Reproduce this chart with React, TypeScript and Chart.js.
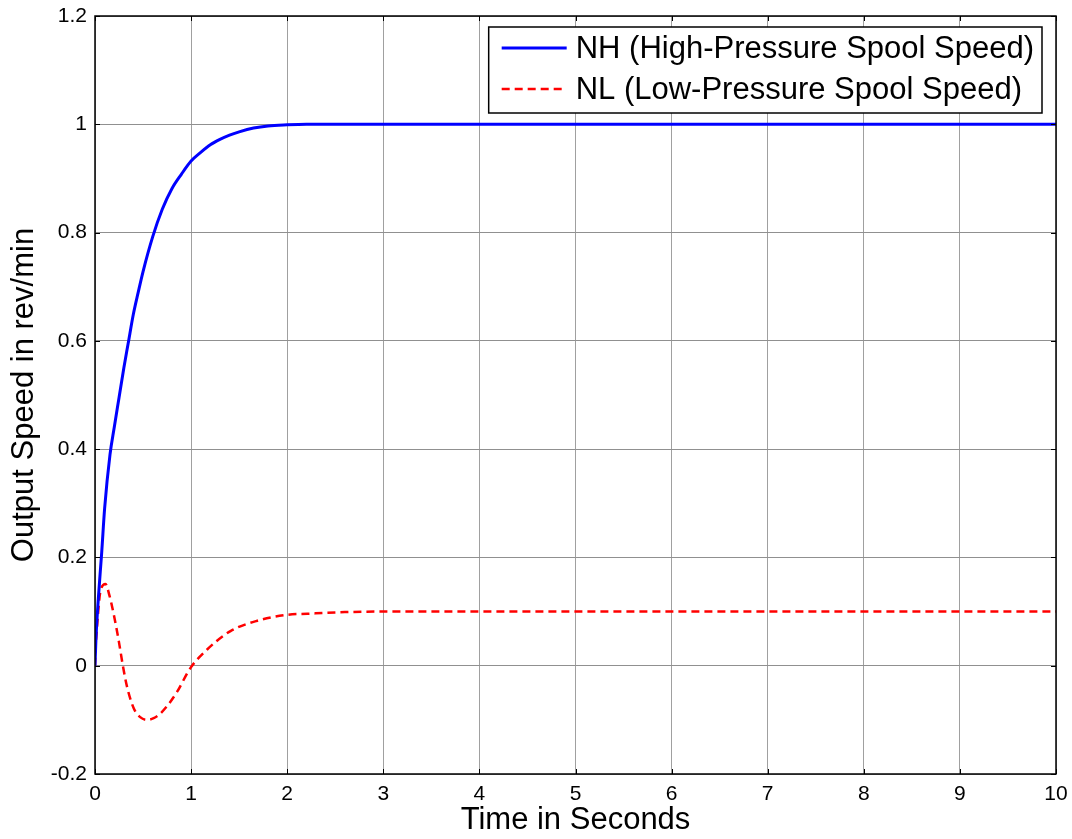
import React, { useEffect, useRef } from "react";
import { Chart, registerables } from "chart.js";

Chart.register(...registerables);

// Time samples (s) and values
const nhTime = [0, 0.01, 0.035, 0.07, 0.1, 0.156, 0.2, 0.25, 0.3, 0.345, 0.4, 0.45, 0.5, 0.6, 0.7, 0.8, 0.9, 1.0, 1.1, 1.2, 1.3, 1.4, 1.5, 1.65, 1.8, 2.0, 2.2, 3, 4, 5, 6, 7, 8, 9, 10];
const nhValues = [0, 0.05, 0.125, 0.21, 0.29, 0.39, 0.44, 0.495, 0.55, 0.595, 0.65, 0.69, 0.728, 0.792, 0.843, 0.881, 0.908, 0.932, 0.948, 0.962, 0.972, 0.98, 0.986, 0.993, 0.997, 0.999, 1.0, 1.0, 1.0, 1.0, 1.0, 1.0, 1.0, 1.0, 1.0];

const nlTime = [0, 0.005, 0.023, 0.057, 0.109, 0.15, 0.196, 0.248, 0.29, 0.335, 0.404, 0.47, 0.543, 0.61, 0.682, 0.77, 0.855, 0.994, 1.167, 1.41, 1.688, 2.0, 2.21, 2.6, 3, 4, 5, 6, 7, 8, 9, 10];
const nlValues = [0, 0.026, 0.076, 0.138, 0.151, 0.13, 0.094, 0.045, 0, -0.04, -0.079, -0.095, -0.1, -0.097, -0.088, -0.07, -0.048, -0.004, 0.03, 0.064, 0.083, 0.094, 0.096, 0.099, 0.1, 0.1, 0.1, 0.1, 0.1, 0.1, 0.1, 0.1];

const seriesLabels = ["NH (High-Pressure Spool Speed)", "NL (Low-Pressure Spool Speed)"];
const xTitle = "Time in Seconds";
const yTitle = "Output Speed in rev/min";

const FONT = "'Liberation Sans', Arial, Helvetica, sans-serif";

const frameAndTicks = {
  id: "frameAndTicks",
  afterDatasetsDraw(chart: any) {
    const { ctx, chartArea, scales } = chart;
    const { left, right, top, bottom } = chartArea;
    ctx.save();
    ctx.strokeStyle = "#000";
    ctx.lineWidth = 1;
    const len = 5;
    ctx.beginPath();
    scales.x.ticks.forEach((t: any) => {
      const px = Math.round(scales.x.getPixelForValue(t.value)) + 0.5;
      ctx.moveTo(px, bottom);
      ctx.lineTo(px, bottom - len);
      ctx.moveTo(px, top);
      ctx.lineTo(px, top + len);
    });
    scales.y.ticks.forEach((t: any) => {
      const py = Math.round(scales.y.getPixelForValue(t.value)) + 0.5;
      ctx.moveTo(left, py);
      ctx.lineTo(left + len, py);
      ctx.moveTo(right, py);
      ctx.lineTo(right - len, py);
    });
    ctx.stroke();
    ctx.lineWidth = 1.5;
    ctx.strokeRect(left, top, right - left, bottom - top);
    ctx.restore();
  },
};

const insideLegend = {
  id: "insideLegend",
  afterDraw(chart: any) {
    const { ctx, chartArea } = chart;
    ctx.save();
    ctx.font = `31px ${FONT}`;
    const textW = Math.max(...seriesLabels.map((s) => ctx.measureText(s).width));
    const w = 87 + textW + 8;
    const h = 86;
    const x = chartArea.right - 14 - w;
    const y = chartArea.top + 11;
    ctx.fillStyle = "#fff";
    ctx.fillRect(x, y, w, h);
    ctx.strokeStyle = "#000";
    ctx.lineWidth = 1.5;
    ctx.strokeRect(x, y, w, h);
    const rows = [y + 21, y + 62];
    const colors = ["#0000ff", "#ff0000"];
    const dashes = [[], [8, 5]];
    rows.forEach((ry, i) => {
      ctx.beginPath();
      ctx.strokeStyle = colors[i];
      ctx.lineWidth = i === 0 ? 3 : 2.5;
      ctx.setLineDash(dashes[i]);
      ctx.moveTo(x + 13, ry);
      ctx.lineTo(x + 78, ry);
      ctx.stroke();
      ctx.setLineDash([]);
      ctx.fillStyle = "#000";
      ctx.textBaseline = "middle";
      ctx.textAlign = "left";
      ctx.fillText(seriesLabels[i], x + 87, ry + 1);
    });
    ctx.restore();
  },
};

export default function App() {
  const ref = useRef<HTMLCanvasElement | null>(null);
  useEffect(() => {
    if (!ref.current) return;
    const chart = new Chart(ref.current, {
      type: "line",
      data: {
        datasets: [
          {
            label: seriesLabels[0],
            data: nhTime.map((t, i) => ({ x: t, y: nhValues[i] })),
            borderColor: "#0000ff",
            borderWidth: 3,
            pointRadius: 0,
            cubicInterpolationMode: "monotone",
            fill: false,
          },
          {
            label: seriesLabels[1],
            data: nlTime.map((t, i) => ({ x: t, y: nlValues[i] })),
            borderColor: "#ff0000",
            borderWidth: 2.5,
            borderDash: [8, 5],
            pointRadius: 0,
            cubicInterpolationMode: "monotone",
            fill: false,
          },
        ],
      },
      options: {
        responsive: false,
        animation: false,
        devicePixelRatio: 1,
        layout: { padding: { top: 16, right: 16, left: 0, bottom: 0 } },
        plugins: { legend: { display: false }, tooltip: { enabled: false } },
        scales: {
          x: {
            type: "linear",
            min: 0,
            max: 10,
            ticks: {
              stepSize: 1,
              color: "#000",
              padding: 8,
              maxRotation: 0,
              font: { family: FONT, size: 21 },
            },
            grid: { color: "#a0a0a0", lineWidth: 1, drawTicks: false },
            border: { display: false },
            title: {
              display: true,
              text: xTitle,
              color: "#000",
              font: { family: FONT, size: 31 },
              padding: { top: 0, bottom: 0 },
            },
            afterFit(scale: any) {
              scale.height = 65;
              scale.paddingLeft = 0;
              scale.paddingRight = 0;
            },
          },
          y: {
            type: "linear",
            min: -0.2,
            max: 1.2,
            ticks: {
              stepSize: 0.2,
              color: "#000",
              padding: 8,
              font: { family: FONT, size: 21 },
              callback: (v: any) => String(Number(Number(v).toFixed(1))),
            },
            grid: { color: "#909090", lineWidth: 1, drawTicks: false },
            border: { display: false },
            title: {
              display: true,
              text: yTitle,
              color: "#000",
              font: { family: FONT, size: 31 },
              padding: { top: 6, bottom: 0 },
            },
            afterFit(scale: any) {
              scale.width = 95;
              scale.paddingTop = 0;
              scale.paddingBottom = 0;
            },
          },
        },
      },
      plugins: [frameAndTicks, insideLegend],
    });
    return () => chart.destroy();
  }, []);
  return (
    <div style={{ position: "absolute", left: 0, top: 0, width: 1072, height: 839, background: "#fff" }}>
      <canvas ref={ref} width={1072} height={839} style={{ display: "block" }} />
    </div>
  );
}
